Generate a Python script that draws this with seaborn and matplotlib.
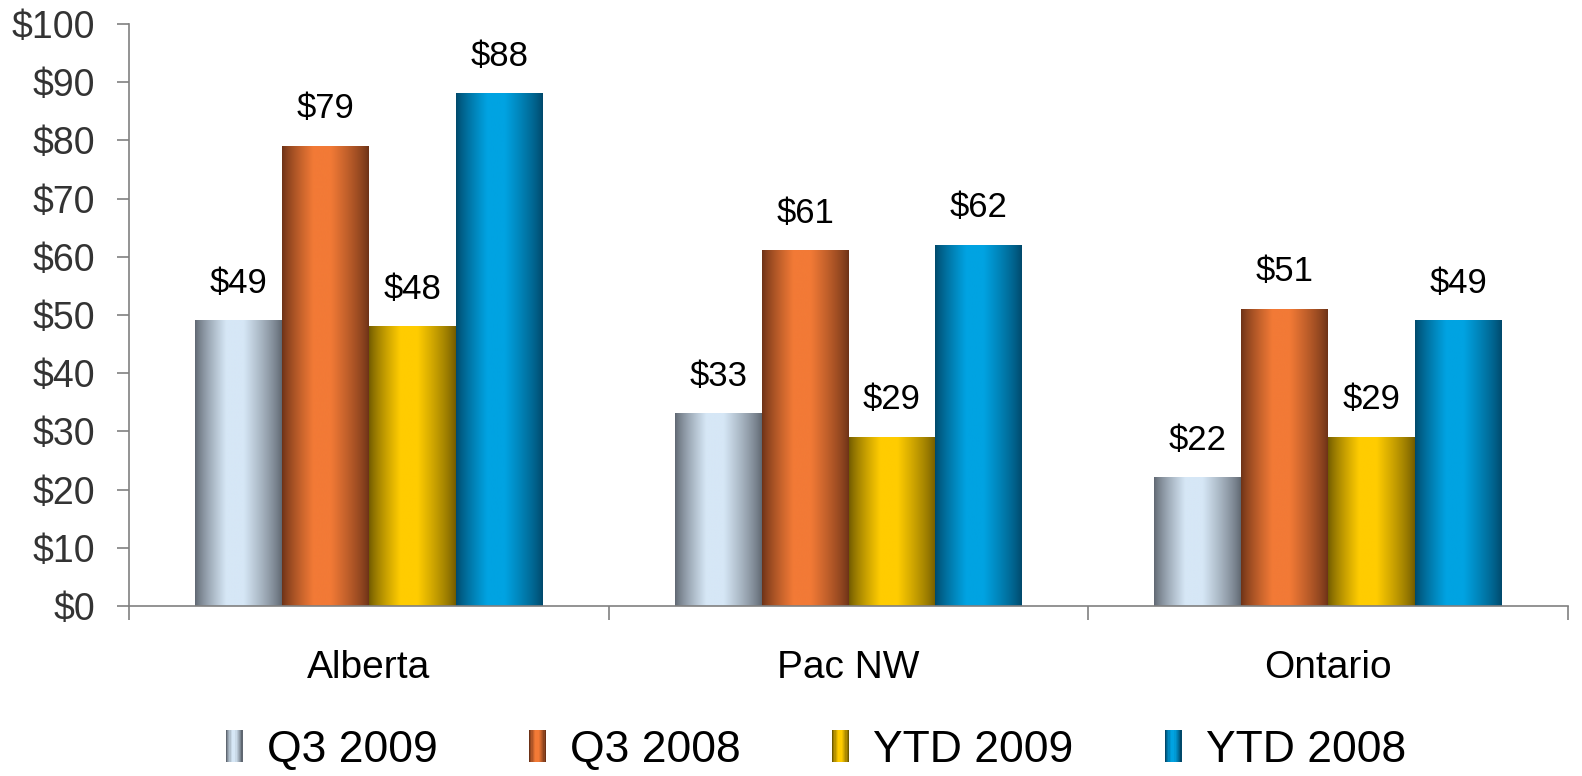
import numpy as np
import pandas as pd
import matplotlib
matplotlib.use("Agg")
import matplotlib.pyplot as plt
import seaborn as sns
from matplotlib.patches import Rectangle
from matplotlib.legend_handler import HandlerBase
from matplotlib.ticker import FixedLocator, FuncFormatter
import matplotlib.colors as mcolors

# ---- data ----
categories = ["Alberta", "Pac NW", "Ontario"]
series_names = ["Q3 2009", "Q3 2008", "YTD 2009", "YTD 2008"]
q3_2009 = [49, 33, 22]
q3_2008 = [79, 61, 51]
ytd_2009 = [48, 29, 29]
ytd_2008 = [88, 62, 49]
y_ticks = [0, 10, 20, 30, 40, 50, 60, 70, 80, 90, 100]

# gradient colours (dark edge, light centre)
dark_colors = ["#5f6771", "#6c3217", "#705a00", "#00486a"]
light_colors = ["#d6e7f6", "#f27a36", "#ffcc00", "#00a3e2"]

values = [q3_2009, q3_2008, ytd_2009, ytd_2008]
df = pd.DataFrame({
    "Region": [c for s in series_names for c in categories],
    "Series": [s for s in series_names for _ in categories],
    "Value": [v for vals in values for v in vals],
})

sns.set_style("white")
plt.rcParams["font.family"] = ["Liberation Sans", "DejaVu Sans"]
plt.rcParams["text.color"] = "black"

fig = plt.figure(figsize=(15.82, 7.76), dpi=100)
ax = fig.add_axes([129 / 1582, (776 - 606) / 776, (1568 - 129) / 1582, (606 - 24) / 776])

sns.barplot(data=df, x="Region", y="Value", hue="Series", order=categories,
            hue_order=series_names, palette=light_colors, width=0.725,
            dodge=True, ax=ax, legend=False, saturation=1, errorbar=None)


def gradient_rgb(dark, light, n=200):
    d = np.array(mcolors.to_rgb(dark))
    l = np.array(mcolors.to_rgb(light))
    x = np.linspace(0, 1, n)
    peak = 0.45
    f = np.where(x < peak, x / peak, (1 - x) / (1 - peak))
    f = np.clip(f * 1.25, 0, 1) ** 0.8
    img = d[None, :] + (l - d)[None, :] * f[:, None]
    return img


for ci, cont in enumerate(ax.containers):
    img = gradient_rgb(dark_colors[ci], light_colors[ci])[None, :, :]
    for bar in cont:
        x0, w, h = bar.get_x(), bar.get_width(), bar.get_height()
        bar.set_facecolor("none")
        bar.set_edgecolor("none")
        ax.imshow(img, extent=[x0, x0 + w, 0, h], aspect="auto",
                  interpolation="bilinear", zorder=2)
    ax.bar_label(cont, labels=[f"${v:.0f}" for v in cont.datavalues],
                 padding=15, fontsize=25, color="black")

ax.set_xlim(-0.5, 2.5)
ax.set_ylim(0, 100)
ax.set_aspect("auto")

# axes styling
for s in ["top", "right"]:
    ax.spines[s].set_visible(False)
ax.spines["left"].set_color("#808080")
ax.spines["bottom"].set_color("#808080")
ax.spines["left"].set_linewidth(1.2)
ax.spines["bottom"].set_linewidth(1.2)

ax.yaxis.set_major_locator(FixedLocator(y_ticks))
ax.yaxis.set_major_formatter(FuncFormatter(lambda v, p: f"${v:.0f}"))
ax.tick_params(axis="y", which="major", direction="out", length=8.6, width=1.2,
               color="#808080", labelsize=27, labelcolor="#333333", pad=16, left=True)
ax.set_xticks(range(len(categories)))
ax.set_xticklabels(categories)
ax.xaxis.set_minor_locator(FixedLocator([-0.5, 0.5, 1.5, 2.5]))
ax.tick_params(axis="x", which="major", length=0, labelsize=28, labelcolor="black", pad=32)
ax.tick_params(axis="x", which="minor", direction="out", length=10, width=1.2,
               color="#808080", bottom=True)
ax.set_xlabel("")
ax.set_ylabel("")
ax.grid(False)


class GradientHandler(HandlerBase):
    def __init__(self, dark, light):
        super().__init__()
        self.dark = dark
        self.light = light

    def create_artists(self, legend, orig_handle, xdescent, ydescent, width,
                       height, fontsize, trans):
        n = 14
        cols = gradient_rgb(self.dark, self.light, n)
        arts = []
        for i in range(n):
            r = Rectangle((-xdescent + width * i / n, -ydescent), width / n + 0.05, height,
                          facecolor=cols[i], edgecolor="none", transform=trans)
            arts.append(r)
        return arts


handles = [Rectangle((0, 0), 1, 1) for _ in series_names]
handler_map = {h: GradientHandler(dark_colors[i], light_colors[i]) for i, h in enumerate(handles)}
fig.legend(handles, series_names, handler_map=handler_map, loc="center",
           bbox_to_anchor=(816 / 1582, 1 - 750 / 776), ncol=4, frameon=False,
           fontsize=32, handlelength=0.38, handleheight=0.72, handletextpad=0.55,
           columnspacing=2.05, labelcolor="black")

fig.savefig("out.png", dpi=100)
